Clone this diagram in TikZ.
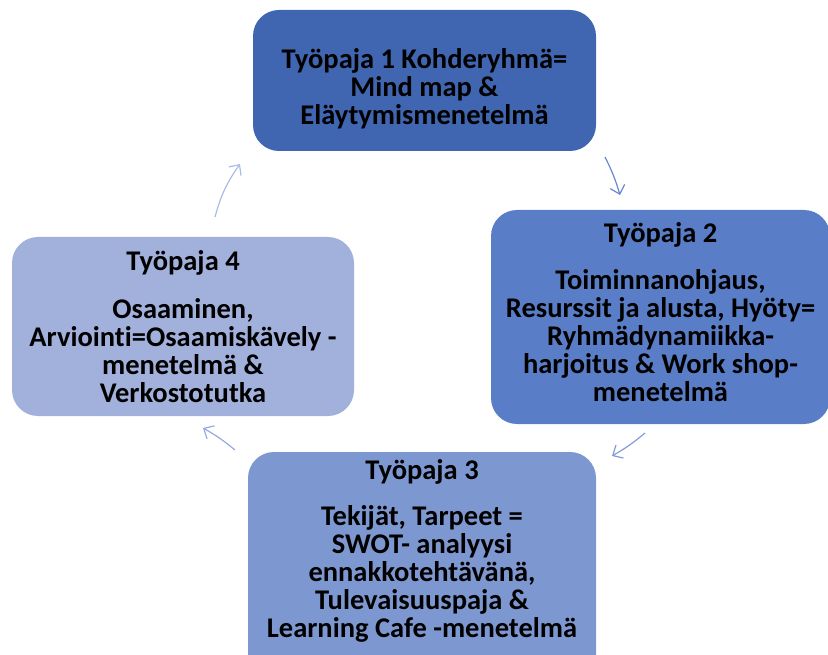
\documentclass[tikz,border=0pt]{standalone}
\usepackage{fontspec}
\setmainfont{Carlito}[Ligatures=CommonOff]
\usetikzlibrary{arrows.meta,positioning,calc}

\definecolor{tpone}{RGB}{64,102,177}
\definecolor{tptwo}{RGB}{90,125,199}
\definecolor{tpthree}{RGB}{125,151,208}
\definecolor{tpfour}{RGB}{162,177,220}

\begin{document}
\begin{tikzpicture}[
		x=1pt, y=-1pt,
		wbox/.style={rectangle, rounded corners=26pt, align=center, inner sep=0pt,
			font=\bfseries\fontsize{28.5}{28}\selectfont, text=black},
		flow/.style={-{Straight Barb[length=8pt,width=15pt]}, line width=1.2pt}
		]
		\useasboundingbox (0,0) rectangle (828,655);
		% the four workshops
		\node[wbox, fill=tpone, minimum width=343pt, minimum height=141pt] at (424.5,80.5) (tp1)
			{\rule{0pt}{37pt}Työpaja 1 Kohderyhmä=\\Mind map \&\\Eläytymismenetelmä};
		\node[wbox, fill=tptwo, minimum width=339pt, minimum height=214pt] at (660.5,317) (tp2)
			{Työpaja 2\\[19pt]Toiminnanohjaus,\\Resurssit ja alusta, Hyöty=\\Ryhmädynamiikka-\\harjoitus \& Work shop-\\menetelmä\\[-18pt]\mbox{}};
		\node[wbox, fill=tpthree, minimum width=348pt, minimum height=240pt] at (422,572) (tp3)
			{Työpaja 3\\[18pt]Tekijät, Tarpeet =\\SWOT- analyysi\\ennakkotehtävänä,\\Tulevaisuuspaja \&\\Learning Cafe -menetelmä\\[19pt]\mbox{}};
		\node[wbox, fill=tpfour, minimum width=342pt, minimum height=179pt] at (183,326.5) (tp4)
			{Työpaja 4\\[20pt]Osaaminen,\\Arviointi=Osaamiskävely -\\menetelmä \&\\Verkostotutka};

		% arrows between them
		\coordinate (a1s) at (605,157);
		\coordinate (a1e) at (620,195);
		\coordinate (a2s) at (645,433);
		\coordinate (a2e) at (612,456);
		\coordinate (a3s) at (235,450);
		\coordinate (a3e) at (203,428);
		\coordinate (a4s) at (215,217);
		\coordinate (a4e) at (240,164);
		\draw[flow, color={rgb,255:red,105;green,135;blue,210}] (a1s) to[bend left=5] (a1e);
		\draw[flow, color={rgb,255:red,130;green,155;blue,215}] (a2s) to[bend left=5] (a2e);
		\draw[flow, color={rgb,255:red,150;green,170;blue,225}] (a3s) to[bend right=5] (a3e);
		\draw[flow, color={rgb,255:red,170;green,188;blue,230}] (a4s) to[bend left=10] (a4e);
	\end{tikzpicture}
\end{document}
